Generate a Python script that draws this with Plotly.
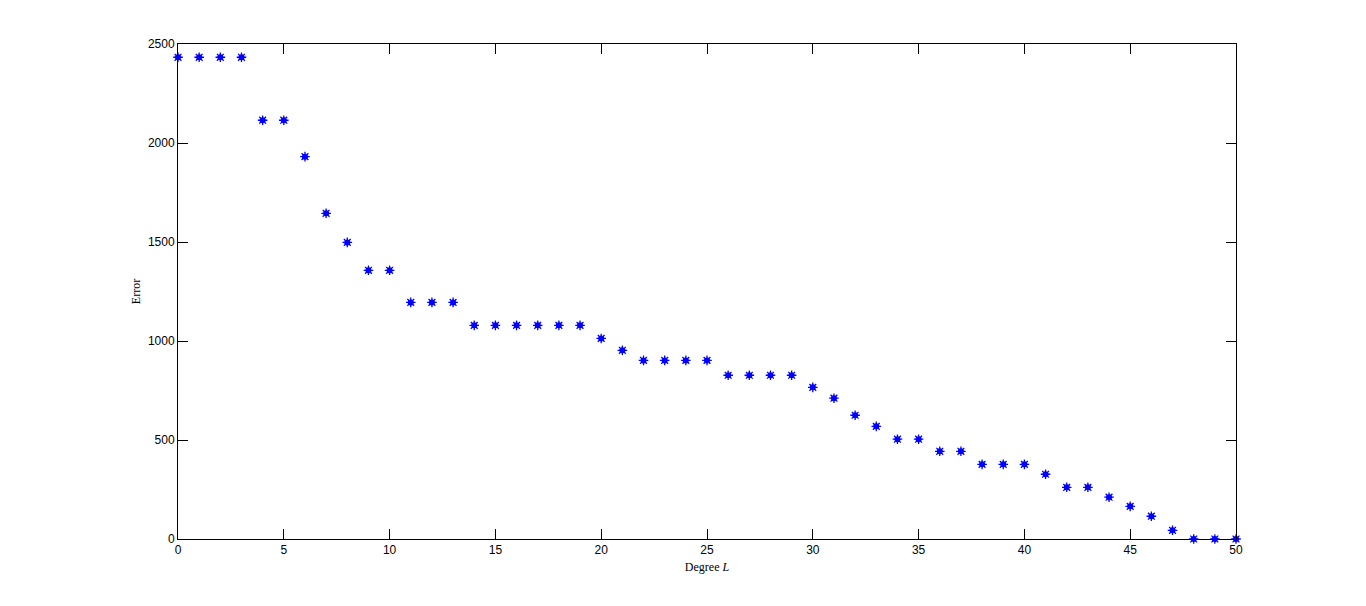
import plotly.graph_objects as go

degree = list(range(0, 51))
error = [2433, 2433, 2433, 2433, 2115, 2115, 1931, 1645, 1498, 1357,
         1357, 1195, 1195, 1195, 1079, 1079, 1079, 1079, 1079, 1079,
         1013, 953, 902, 902, 902, 902, 827, 827, 827, 827,
         766, 711, 625, 569, 504, 504, 443, 443, 377, 377,
         377, 327, 261, 261, 211, 165, 115, 44, 0, 0, 0]

x_ticks = [0, 5, 10, 15, 20, 25, 30, 35, 40, 45, 50]
y_ticks = [0, 500, 1000, 1500, 2000, 2500]

fig = go.Figure()
fig.add_trace(go.Scatter(
    x=degree, y=error, mode="markers",
    marker=dict(symbol="circle", size=6, color="#0000FF", line=dict(width=0)),
    cliponaxis=False, showlegend=False, hoverinfo="skip"))
fig.add_trace(go.Scatter(
    x=degree, y=error, mode="markers",
    marker=dict(symbol="asterisk-open", size=8, color="#0000FF",
                line=dict(width=1.3, color="#0000FF")),
    cliponaxis=False, showlegend=False))

axis_common = dict(showgrid=False, zeroline=False, showline=True, linecolor="black",
                   linewidth=1, mirror="ticks", ticks="inside", ticklen=10,
                   tickcolor="black", tickwidth=1,
                   tickfont=dict(family="Liberation Sans, Arial", size=12, color="black"))

fig.update_layout(
    width=1366, height=606,
    margin=dict(l=170, r=138, t=36, b=75),
    plot_bgcolor="white", paper_bgcolor="white",
    xaxis=dict(range=[0, 50], tickvals=x_ticks, ticktext=[str(v) for v in x_ticks],
               title=dict(text="Degree <i>L</i>", standoff=6,
                          font=dict(family="Liberation Serif, Times New Roman", size=12, color="black")),
               **axis_common),
    yaxis=dict(range=[0, 2500], tickvals=y_ticks, ticktext=[str(v) for v in y_ticks],
               title=dict(text="Error", standoff=4,
                          font=dict(family="Liberation Serif, Times New Roman", size=12, color="black")),
               **axis_common),
)

fig.write_html("out.html")
